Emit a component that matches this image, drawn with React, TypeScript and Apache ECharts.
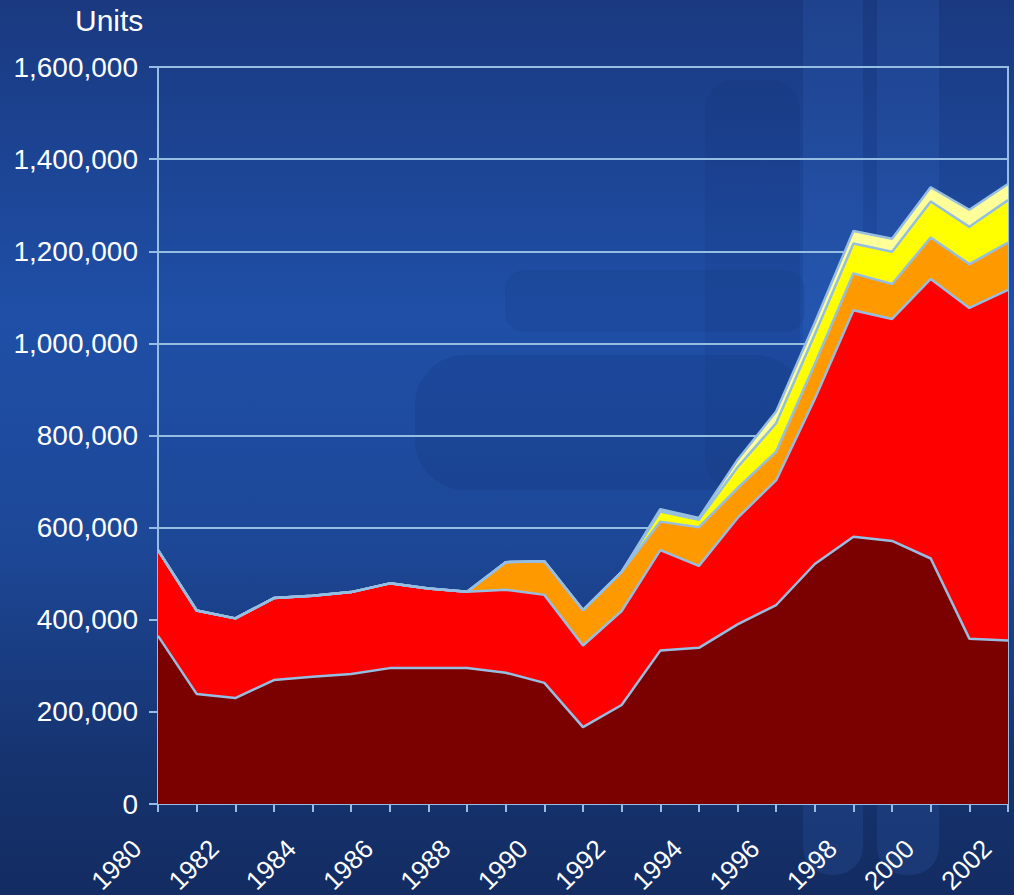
import React, { useEffect, useRef } from "react";
import * as echarts from "echarts";

const years = [
  "1980", "1981", "1982", "1983", "1984", "1985", "1986", "1987", "1988", "1989", "1990", "1991",
  "1992", "1993", "1994", "1995", "1996", "1997", "1998", "1999", "2000", "2001", "2002",
];

const darkRed = [
  365000, 239000, 230000, 269000, 276000, 282000, 295000, 295000, 295000, 285000, 263000, 167000,
  215000, 333000, 339000, 390000, 432000, 521000, 580000, 571000, 533000, 359000, 355000,
];
const red = [
  186000, 181000, 173000, 178000, 176000, 178000, 184000, 173000, 166000, 180000, 191000, 177000,
  204000, 218000, 178000, 231000, 271000, 359000, 492000, 482000, 607000, 718000, 761000,
];
const orange = [
  0, 0, 0, 0, 0, 0, 0, 0, 0, 60000, 73000, 77000,
  85000, 62000, 84000, 65000, 62000, 75000, 80000, 76000, 90000, 95000, 103000,
];
const yellow = [
  0, 0, 0, 0, 0, 0, 0, 0, 0, 0, 0, 0,
  0, 22000, 16000, 45000, 62000, 65000, 65000, 70000, 78000, 81000, 92000,
];
const lightYellow = [
  0, 0, 0, 0, 0, 0, 0, 0, 0, 0, 0, 0,
  0, 5000, 4000, 16000, 25000, 25000, 27000, 28000, 31000, 37000, 35000,
];

const yTicks = { min: 0, max: 1600000, interval: 200000 };

const LINE = "#96bee2";
const FONT = "Liberation Sans, Arial, sans-serif";

export default function App() {
  const ref = useRef<HTMLDivElement>(null);
  useEffect(() => {
    document.body.style.margin = "0";
    const chart = echarts.init(ref.current!, undefined, { renderer: "svg" });
    const mk = (name: string, data: number[], color: string) => ({
      name,
      type: "line",
      stack: "total",
      data,
      symbol: "none",
      lineStyle: { color: LINE, width: 2.5 },
      areaStyle: { color, opacity: 1 },
      z: 3,
    });
    chart.setOption({
      animation: false,
      backgroundColor: {
        type: "linear",
        x: 0, y: 0, x2: 0, y2: 1,
        colorStops: [
          { offset: 0, color: "#1a3980" },
          { offset: 0.35, color: "#1f4fa7" },
          { offset: 0.6, color: "#1d4898" },
          { offset: 0.85, color: "#16336f" },
          { offset: 1, color: "#132c62" },
        ],
      },
      graphic: [
        { type: "rect", z: -1, shape: { x: 803, y: -30, width: 60, height: 905, r: 28 }, style: { fill: "rgba(70,130,230,0.13)" } },
        { type: "rect", z: -1, shape: { x: 877, y: -30, width: 62, height: 905, r: 28 }, style: { fill: "rgba(70,130,230,0.13)" } },
        { type: "rect", z: -1, shape: { x: 705, y: 80, width: 95, height: 410, r: 30 }, style: { fill: "rgba(10,30,80,0.08)" } },
        { type: "rect", z: -1, shape: { x: 505, y: 270, width: 300, height: 62, r: 20 }, style: { fill: "rgba(10,30,80,0.09)" } },
        { type: "rect", z: -1, shape: { x: 415, y: 355, width: 390, height: 135, r: 50 }, style: { fill: "rgba(10,30,80,0.11)" } },
        {
          type: "text",
          left: 75,
          top: 5,
          style: { text: "Units", fill: "#ffffff", font: `30px ${FONT}` },
        },
      ],
      grid: {
        left: 158, right: 6, top: 67, bottom: 91,
        outerBoundsMode: "none",
        containLabel: false,
        show: true, borderColor: LINE, borderWidth: 2, backgroundColor: "transparent",
      },
      xAxis: {
        type: "category",
        boundaryGap: false,
        data: years,
        axisLine: { lineStyle: { color: LINE, width: 2 } },
        axisTick: { show: true, interval: 0, length: 8, lineStyle: { color: LINE, width: 2 } },
        axisLabel: {
          interval: 1,
          rotate: 45,
          margin: 19,
          padding: [0, 30, 0, 0],
          color: "#ffffff",
          fontSize: 26,
          fontFamily: FONT,
        },
        splitLine: { show: false },
      },
      yAxis: {
        type: "value",
        ...yTicks,
        axisLine: { show: true, lineStyle: { color: LINE, width: 2 } },
        axisTick: { show: true, length: 9, lineStyle: { color: LINE, width: 2 } },
        axisLabel: {
          margin: 20,
          color: "#ffffff",
          fontSize: 28,
          fontFamily: FONT,
          formatter: (v: number) => v.toLocaleString("en-US"),
        },
        splitLine: { show: true, lineStyle: { color: LINE, width: 2 } },
      },
      series: [
        mk("A", darkRed, "#7b0000"),
        mk("B", red, "#ff0000"),
        mk("C", orange, "#ff9900"),
        mk("D", yellow, "#ffff00"),
        mk("E", lightYellow, "#ffff99"),
      ],
    });
    return () => chart.dispose();
  }, []);
  return <div ref={ref} style={{ width: 1014, height: 895 }} />;
}
